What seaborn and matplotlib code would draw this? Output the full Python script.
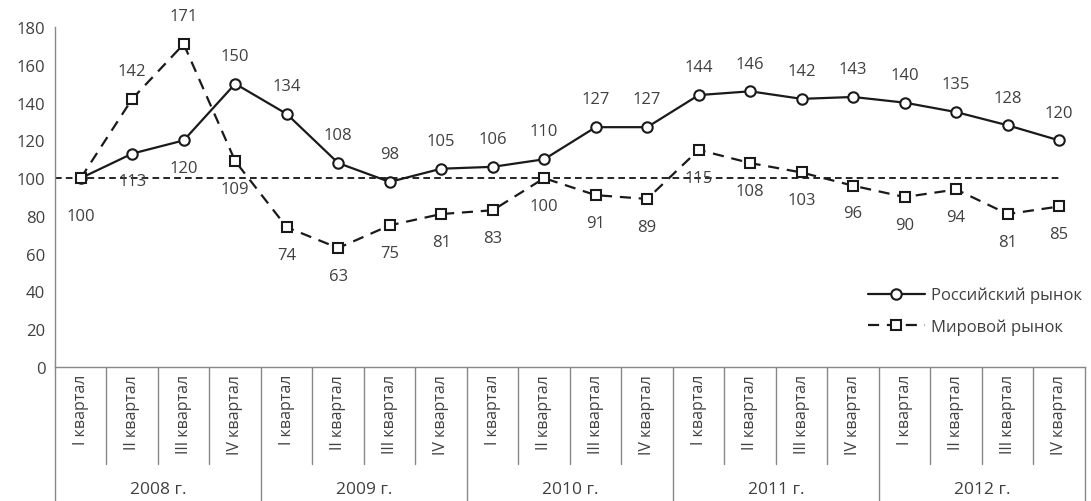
import numpy as np
import pandas as pd
import matplotlib
matplotlib.use('Agg')
import matplotlib.pyplot as plt
import seaborn as sns

years = ['2008 г.', '2009 г.', '2010 г.', '2011 г.', '2012 г.']
quarters = ['I квартал', 'II квартал', 'III квартал', 'IV квартал']
russia = [100, 113, 120, 150, 134, 108, 98, 105, 106, 110,
          127, 127, 144, 146, 142, 143, 140, 135, 128, 120]
world = [100, 142, 171, 109, 74, 63, 75, 81, 83, 100,
         91, 89, 115, 108, 103, 96, 90, 94, 81, 85]
# label above (+1) or below (-1) the point, 0 = no label
russia_pos = [-1, -1, -1, 1, 1, 1, 1, 1, 1, 1, 1, 1, 1, 1, 1, 1, 1, 1, 1, 1]
world_pos = [0, 1, 1] + [-1] * 17

sns.set_style('white')
plt.rcParams['font.family'] = ['Open Sans', 'DejaVu Sans']
txt = '#404040'

n = len(russia)
idx = np.arange(n)
df = pd.DataFrame({'x': idx, 'russia': russia, 'world': world})

fig = plt.figure(figsize=(10.91, 5.02), dpi=100)
ax = fig.add_axes([0.0504, 0.267, 0.944, 0.677])

ax.plot([-0.5, n - 1], [100, 100], color='black', lw=1.2, ls=(0, (4, 2.5)), zorder=1)

sns.lineplot(data=df, x='x', y='russia', ax=ax, color='#1a1a1a', lw=1.6,
             marker='o', markersize=7.5, markerfacecolor='white',
             markeredgecolor='#1a1a1a', markeredgewidth=1.5,
             label='Российский рынок', zorder=3)
sns.lineplot(data=df, x='x', y='world', ax=ax, color='#1a1a1a', lw=1.6,
             marker='s', markersize=7, markerfacecolor='white',
             markeredgecolor='#1a1a1a', markeredgewidth=1.5,
             label='Мировой рынок', zorder=3)
ax.lines[2].set_linestyle((0, (5, 3.5)))

for i in range(n):
    if russia_pos[i]:
        off = 20 if russia_pos[i] > 0 else -(27 if i == 0 else 20)
        ax.annotate(str(russia[i]), (i, russia[i]), xytext=(0, off),
                    textcoords='offset points', ha='center', va='center',
                    fontsize=12, color=txt)
    if world_pos[i]:
        off = 20 * world_pos[i]
        ax.annotate(str(world[i]), (i, world[i]), xytext=(0, off),
                    textcoords='offset points', ha='center', va='center',
                    fontsize=12, color=txt)

ax.set_xlim(-0.5, n - 0.5)
ax.set_ylim(0, 180)
ax.set_yticks(range(0, 181, 20))
ax.tick_params(axis='y', length=4, color='#888888', labelsize=12, labelcolor=txt, pad=3)
ax.set_xticks(idx)
ax.set_xticklabels(quarters * len(years), rotation=90, fontsize=11.5, color=txt)
ax.tick_params(axis='x', length=0, pad=5)
ax.set_xlabel('')
ax.set_ylabel('')

for s in ['top', 'right']:
    ax.spines[s].set_visible(False)
for s in ['left', 'bottom']:
    ax.spines[s].set_color('#888888')
    ax.spines[s].set_linewidth(1)

tr = ax.get_xaxis_transform()
for b in np.arange(-0.5, n, 1):
    bottom = -0.395 if (b + 0.5) % 4 == 0 else -0.285
    ax.plot([b, b], [0, bottom], transform=tr, color='#888888', lw=1, clip_on=False)
for k, y in enumerate(years):
    ax.text(k * 4 + 1.5, -0.36, y, transform=tr, ha='center', va='center',
            fontsize=12.5, color=txt)

leg = ax.legend(loc='lower right', bbox_to_anchor=(1.012, 0.05), frameon=False,
                fontsize=12, handlelength=3.4, labelspacing=0.9, handletextpad=0.4)
for t in leg.get_texts():
    t.set_color(txt)

fig.savefig('out.png', dpi=100)
